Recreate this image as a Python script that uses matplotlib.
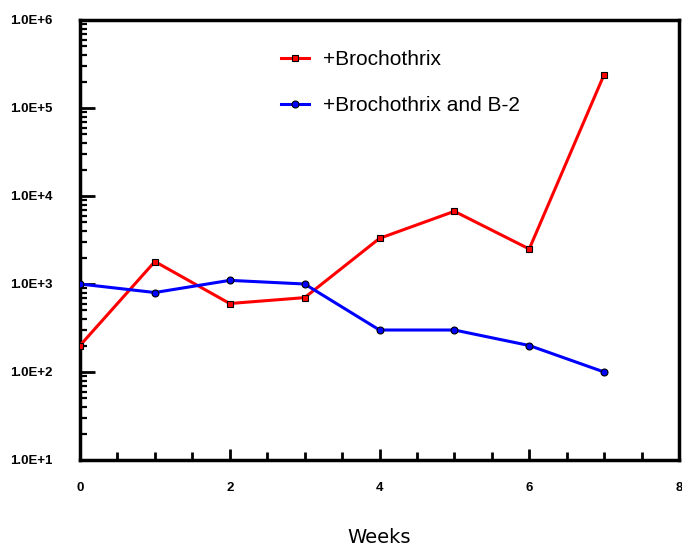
import matplotlib
matplotlib.use("Agg")
import matplotlib.pyplot as plt
from matplotlib.ticker import FixedLocator, LogLocator, NullFormatter, FixedFormatter

weeks = [0, 1, 2, 3, 4, 5, 6, 7]
broch = [200, 1800, 600, 700, 3300, 6700, 2500, 240000]
broch_b2 = [1000, 800, 1100, 1000, 300, 300, 200, 100]
label_red = "+Brochothrix"
label_blue = "+Brochothrix and B-2"
ytick_vals = [1e1, 1e2, 1e3, 1e4, 1e5, 1e6]
ytick_labels = ["1.0E+1", "1.0E+2", "1.0E+3", "1.0E+4", "1.0E+5", "1.0E+6"]
xtick_vals = [0, 2, 4, 6, 8]
xtick_labels = ["0", "2", "4", "6", "8"]

fig = plt.figure(figsize=(6.82, 5.49), dpi=100)
ax = fig.add_axes([80/682, 1-460/549, 599/682, 440/549])

ax.plot(weeks, broch, color="#ff0000", lw=2.2, marker="s", ms=5,
        mfc="#ff0000", mec="black", mew=0.8, label=label_red, zorder=3)
ax.plot(weeks, broch_b2, color="#0000ff", lw=2.2, marker="o", ms=5,
        mfc="#0000ff", mec="black", mew=0.8, label=label_blue, zorder=3)

ax.set_yscale("log")
ax.set_ylim(10, 1e6)
ax.set_xlim(0, 8)

ax.yaxis.set_major_locator(FixedLocator(ytick_vals))
ax.yaxis.set_major_formatter(FixedFormatter(ytick_labels))
ax.yaxis.set_minor_locator(LogLocator(base=10, subs=range(2, 10)))
ax.yaxis.set_minor_formatter(NullFormatter())

ax.xaxis.set_major_locator(FixedLocator(xtick_vals))
ax.xaxis.set_major_formatter(FixedFormatter(xtick_labels))
ax.xaxis.set_minor_locator(FixedLocator([0.5, 1, 1.5, 2.5, 3, 3.5, 4.5, 5, 5.5, 6.5, 7, 7.5]))

for s in ax.spines.values():
    s.set_linewidth(2.5)
    s.set_color("black")

ax.tick_params(axis="y", which="major", direction="in", length=11, width=2,
               pad=20, labelsize=9.5)
ax.tick_params(axis="y", which="minor", direction="in", length=5, width=1.6)
ax.tick_params(axis="x", which="major", direction="in", length=8, width=2,
               pad=16, labelsize=9.5)
ax.tick_params(axis="x", which="minor", direction="in", length=6, width=2)
for lab in ax.get_xticklabels() + ax.get_yticklabels():
    lab.set_fontweight("bold")
    lab.set_fontfamily("Liberation Sans")
ax.tick_params(right=False, top=False)

ax.set_xlabel("Weeks", fontsize=14, family="DejaVu Sans", labelpad=24)

leg = ax.legend(loc="upper left", bbox_to_anchor=(0.305, 0.974), frameon=False,
                prop={"family": "Liberation Sans", "size": 15},
                handlelength=1.3, labelspacing=1.3, handletextpad=0.7)

fig.savefig("out.png", dpi=100)
